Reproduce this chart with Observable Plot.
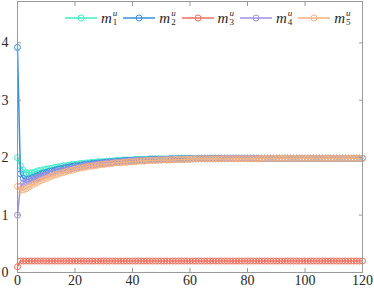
<!DOCTYPE html>
<html><head><meta charset="utf-8">
<script src="https://cdn.jsdelivr.net/npm/d3@7"></script>
<script src="https://cdn.jsdelivr.net/npm/@observablehq/plot@0.6"></script>
<style>
html,body{margin:0;padding:0;background:#fff;}
#wrap{position:relative;width:374px;height:291px;}
#legend{position:absolute;top:9px;left:65px;font-family:"Liberation Serif","DejaVu Serif",serif;color:#262626;}
.item{position:absolute;top:0;display:flex;align-items:center;width:58px;}
.lab{display:flex;align-items:center;font-style:italic;font-size:15px;margin-left:4px;}
.ss{display:inline-flex;flex-direction:column;font-size:9px;line-height:9px;margin-left:1px;font-style:normal;}
.ss .u{font-style:italic;}
</style>
</head><body>
<div id="wrap"><div id="legend"></div></div>
<script>
const steps = d3.range(0, 121);
const seriesNames = ["m1", "m2", "m3", "m4", "m5"];
const seriesSubs = ["1", "2", "3", "4", "5"];
const seriesColors = ["#3df0c6", "#3b8fda", "#f2705e", "#a291e3", "#f8b27e"];

const m1 = [
2.00,1.86,1.78,1.74,1.73,1.74,1.75,1.77,1.78,1.79,
1.80,1.81,1.82,1.83,1.84,1.85,1.86,1.86,1.87,1.88,
1.88,1.89,1.90,1.90,1.91,1.91,1.92,1.92,1.93,1.93,
1.93,1.94,1.94,1.94,1.95,1.95,1.95,1.96,1.96,1.96,
1.96,1.97,1.97,1.97,1.97,1.97,1.98,1.98,1.98,1.98,
1.98,1.98,1.98,1.98,1.98,1.98,1.99,1.99,1.99,1.99,
1.99,1.99,1.99,1.99,1.99,1.99,1.99,1.99,1.99,1.99,
1.99,1.99,1.99,1.99,1.99,1.99,1.99,1.99,1.99,1.99,
1.99,1.99,1.99,1.99,1.99,1.99,1.99,1.99,1.99,1.99,
1.99,1.99,1.99,1.99,1.99,1.99,1.99,1.99,1.99,1.99,
1.99,1.99,1.99,1.99,1.99,1.99,1.99,1.99,1.99,1.99,
1.99,1.99,1.99,1.99,1.99,1.99,1.99,1.99,1.99,1.99,
1.99];
const m2 = [
3.92,1.72,1.64,1.62,1.63,1.65,1.67,1.69,1.71,1.73,
1.74,1.76,1.77,1.78,1.80,1.81,1.82,1.83,1.84,1.85,
1.86,1.86,1.87,1.88,1.89,1.89,1.90,1.90,1.91,1.91,
1.92,1.92,1.93,1.93,1.93,1.94,1.94,1.95,1.95,1.95,
1.95,1.96,1.96,1.96,1.96,1.96,1.97,1.97,1.97,1.97,
1.97,1.97,1.97,1.98,1.98,1.98,1.98,1.98,1.98,1.98,
1.98,1.98,1.98,1.99,1.99,1.99,1.99,1.99,1.99,1.99,
1.99,1.99,1.99,1.99,1.99,1.99,1.99,1.99,1.99,1.99,
1.99,1.99,1.99,1.99,1.99,1.99,1.99,1.99,1.99,1.99,
1.99,1.99,1.99,1.99,1.99,1.99,1.99,1.99,1.99,1.99,
1.99,1.99,1.99,1.99,1.99,1.99,1.99,1.99,1.99,1.99,
1.99,1.99,1.99,1.99,1.99,1.99,1.99,1.99,1.99,1.99,
1.99];
const m3 = [
0.10,0.20,0.20,0.20,0.20,0.20,0.20,0.20,0.20,0.20,
0.20,0.20,0.20,0.20,0.20,0.20,0.20,0.20,0.20,0.20,
0.20,0.20,0.20,0.20,0.20,0.20,0.20,0.20,0.20,0.20,
0.20,0.20,0.20,0.20,0.20,0.20,0.20,0.20,0.20,0.20,
0.20,0.20,0.20,0.20,0.20,0.20,0.20,0.20,0.20,0.20,
0.20,0.20,0.20,0.20,0.20,0.20,0.20,0.20,0.20,0.20,
0.20,0.20,0.20,0.20,0.20,0.20,0.20,0.20,0.20,0.20,
0.20,0.20,0.20,0.20,0.20,0.20,0.20,0.20,0.20,0.20,
0.20,0.20,0.20,0.20,0.20,0.20,0.20,0.20,0.20,0.20,
0.20,0.20,0.20,0.20,0.20,0.20,0.20,0.20,0.20,0.20,
0.20,0.20,0.20,0.20,0.20,0.20,0.20,0.20,0.20,0.20,
0.20,0.20,0.20,0.20,0.20,0.20,0.20,0.20,0.20,0.20,
0.20];
const m4 = [
1.00,1.50,1.55,1.57,1.59,1.61,1.63,1.65,1.67,1.69,
1.70,1.72,1.73,1.75,1.76,1.77,1.78,1.79,1.80,1.81,
1.82,1.83,1.84,1.85,1.86,1.87,1.87,1.88,1.89,1.89,
1.90,1.90,1.91,1.91,1.92,1.92,1.93,1.93,1.93,1.94,
1.94,1.95,1.95,1.95,1.95,1.95,1.96,1.96,1.96,1.96,
1.96,1.97,1.97,1.97,1.97,1.97,1.97,1.97,1.97,1.98,
1.98,1.98,1.98,1.98,1.98,1.98,1.98,1.98,1.98,1.98,
1.98,1.99,1.99,1.99,1.99,1.99,1.99,1.99,1.99,1.99,
1.99,1.99,1.99,1.99,1.99,1.99,1.99,1.99,1.99,1.99,
1.99,1.99,1.99,1.99,1.99,1.99,1.99,1.99,1.99,1.99,
1.99,1.99,1.99,1.99,1.99,1.99,1.99,1.99,1.99,1.99,
1.99,1.99,1.99,1.99,1.99,1.99,1.99,1.99,1.99,1.99,
1.99];
const m5 = [
1.50,1.43,1.44,1.46,1.49,1.52,1.55,1.57,1.60,1.62,
1.64,1.66,1.68,1.70,1.71,1.73,1.74,1.76,1.77,1.78,
1.80,1.81,1.82,1.83,1.84,1.85,1.85,1.86,1.87,1.88,
1.88,1.89,1.89,1.90,1.91,1.91,1.91,1.92,1.92,1.93,
1.93,1.93,1.94,1.94,1.94,1.95,1.95,1.95,1.95,1.96,
1.96,1.96,1.96,1.96,1.96,1.97,1.97,1.97,1.97,1.97,
1.97,1.98,1.98,1.98,1.98,1.98,1.98,1.98,1.98,1.98,
1.98,1.98,1.98,1.98,1.98,1.98,1.98,1.98,1.98,1.98,
1.98,1.98,1.98,1.98,1.98,1.99,1.99,1.99,1.99,1.99,
1.99,1.99,1.99,1.99,1.99,1.99,1.99,1.99,1.99,1.99,
1.99,1.99,1.99,1.99,1.99,1.99,1.99,1.99,1.99,1.99,
1.99,1.99,1.99,1.99,1.99,1.99,1.99,1.99,1.99,1.99,
1.99];
const xTicks = [0, 20, 40, 60, 80, 100, 120];
const yTicks = [0, 1, 2, 3, 4];

const allSeries = [m1, m2, m3, m4, m5];
const marks = [];
allSeries.forEach((vals, k) => {
  const rows = steps.map((t, i) => ({t, v: vals[i]}));
  marks.push(Plot.line(rows, {x: "t", y: "v", stroke: seriesColors[k], strokeWidth: 1.5}));
  marks.push(Plot.dot(rows, {x: "t", y: "v", stroke: seriesColors[k], r: 3, strokeWidth: 1, fill: "none"}));
});

const axisColor = "#9a9a9a";
const serif = "'Liberation Serif', 'DejaVu Serif', 'Times New Roman', serif";
const fmt = d => String(d);
const chart = Plot.plot({
  width: 374, height: 291,
  marginLeft: 17, marginRight: 12, marginTop: 1, marginBottom: 19,
  style: {fontFamily: serif, fontSize: "14px", color: "#262626", background: "#fff", overflow: "visible"},
  x: {domain: [0, 120]},
  y: {domain: [0, 4.72]},
  marks: [
    ...marks,
    Plot.frame({stroke: axisColor, strokeWidth: 1}),
    Plot.axisX({anchor: "bottom", ticks: xTicks, tickSize: -4, tickFormat: () => "", stroke: axisColor, label: null}),
    Plot.axisX({anchor: "top", ticks: xTicks, tickSize: -4, tickFormat: () => "", stroke: axisColor, label: null}),
    Plot.axisY({anchor: "left", ticks: yTicks, tickSize: -4, tickFormat: () => "", stroke: axisColor, label: null}),
    Plot.axisY({anchor: "right", ticks: yTicks, tickSize: -4, tickFormat: () => "", stroke: axisColor, label: null}),
    Plot.axisX({anchor: "bottom", ticks: xTicks, tickSize: 0, tickPadding: 3, tickFormat: fmt, label: null, fill: "#262626", fontFamily: serif}),
    Plot.axisY({anchor: "left", ticks: yTicks, tickSize: 0, tickPadding: 9, tickFormat: fmt, label: null, fill: "#262626", fontFamily: serif})
  ]
});
document.getElementById("wrap").prepend(chart);

const legend = d3.select("#legend");
seriesNames.forEach((name, k) => {
  const item = legend.append("div").attr("class", "item").style("left", (k * 58.3) + "px");
  const svg = item.append("svg").attr("width", 32).attr("height", 10);
  svg.append("line").attr("x1", 0).attr("x2", 32).attr("y1", 5).attr("y2", 5)
    .attr("stroke", seriesColors[k]).attr("stroke-width", 1.5);
  svg.append("circle").attr("cx", 16).attr("cy", 5).attr("r", 3)
    .attr("stroke", seriesColors[k]).attr("stroke-width", 1).attr("fill", "none");
  const lab = item.append("span").attr("class", "lab");
  lab.append("span").text("m");
  const ss = lab.append("span").attr("class", "ss");
  ss.append("span").attr("class", "u").text("u");
  ss.append("span").text(seriesSubs[k]);
});
</script>
</body></html>
